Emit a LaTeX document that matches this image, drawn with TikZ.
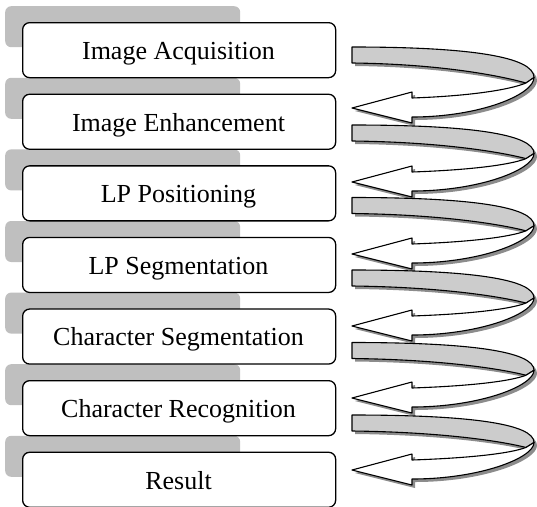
\documentclass[tikz,border=0pt]{standalone}
\usepackage{fontspec}
\setmainfont{Liberation Serif}
\definecolor{backgray}{gray}{0.75}
\definecolor{ribbongray}{gray}{0.80}
\definecolor{shadowgray}{gray}{0.55}
\tikzset{
  stepbox/.style={draw=black, line width=1.3pt, fill=white, rounded corners=7pt,
    minimum width=313pt, minimum height=55pt, inner sep=0pt, anchor=north west},
  backbox/.style={fill=backgray, rounded corners=6pt,
    minimum width=235pt, minimum height=41pt, inner sep=0pt, anchor=north west},
  steplabel/.style={font=\fontsize{26}{30}\selectfont, anchor=base, inner sep=0pt},
  ribbonline/.style={draw=black, line width=1.1pt, line join=round},
}
\begin{document}
\begin{tikzpicture}[x=1pt, y=-1pt]
\useasboundingbox (0,0) rectangle (537,506);
% back (gray) boxes
\foreach \i in {0,...,6} {
  \pgfmathsetmacro\top{22+71.6*\i}
  \node[backbox] (g\i) at (5,\top-16) {};
}
% white step boxes with labels
\foreach \i/\lab in {0/Image Acquisition,1/Image Enhancement,2/LP Positioning,3/LP Segmentation,4/Character Segmentation,5/Character Recognition,6/Result} {
  \pgfmathsetmacro\top{22+71.6*\i}
  \node[stepbox] (b\i) at (22,\top) {};
  \node[steplabel] (t\i) at (178.5,\top+37.5) {\lab};
}
% curved ribbon arrows
\foreach \r/\t in {47/108,125/182,197.5/254,270/326,342.5/398,415/470} {
  \pgfmathsetmacro\h{\t-\r}
  \pgfmathsetmacro\yF{\r+0.5*\h}
  \pgfmathsetmacro\yFc{\r+0.16*\h}
  \pgfmathsetmacro\yFd{\r+0.78*\h}
  \pgfmathsetmacro\yC{\r+0.59*\h}
  \pgfmathsetmacro\yCu{\r+0.7*\h}
  \pgfmathsetmacro\yCb{\r+0.47*\h}
  \pgfmathsetmacro\yB{\r+16}
  \pgfmathsetmacro\yBc{\r+17}
  \pgfmathsetmacro\yLo{\t+9}
  \pgfmathsetmacro\yBarbLo{\t+15}
  \pgfmathsetmacro\yUp{\t-10}
  \pgfmathsetmacro\yUpc{\t-12}
  \pgfmathsetmacro\yBarbUp{\t-16}
  % shadow
  \fill[shadowgray, shift={(3,3)}]
    (352,\r) .. controls (470,\r) and (534,\yFc) .. (534,\yF)
    .. controls (534,\yFd) and (480,\yLo) .. (412,\yLo)
    -- (412,\yBarbLo) -- (352,\t) -- (412,\yBarbUp) -- (412,\yUp)
    .. controls (470,\yUpc) and (510,\yCu) .. (526,\yC)
    .. controls (500,\yCb) and (440,\yBc) .. (352,\yB) -- cycle;
  % back (gray) face
  \path[ribbonline, fill=ribbongray]
    (352,\r) .. controls (470,\r) and (534,\yFc) .. (534,\yF)
    -- (526,\yC)
    .. controls (500,\yCb) and (440,\yBc) .. (352,\yB) -- cycle;
  % front (white) face with arrow head
  \path[ribbonline, fill=white]
    (534,\yF) .. controls (534,\yFd) and (480,\yLo) .. (412,\yLo)
    -- (412,\yBarbLo) -- (352,\t) -- (412,\yBarbUp) -- (412,\yUp)
    .. controls (470,\yUpc) and (510,\yCu) .. (526,\yC) -- cycle;
}
\end{tikzpicture}
\end{document}
